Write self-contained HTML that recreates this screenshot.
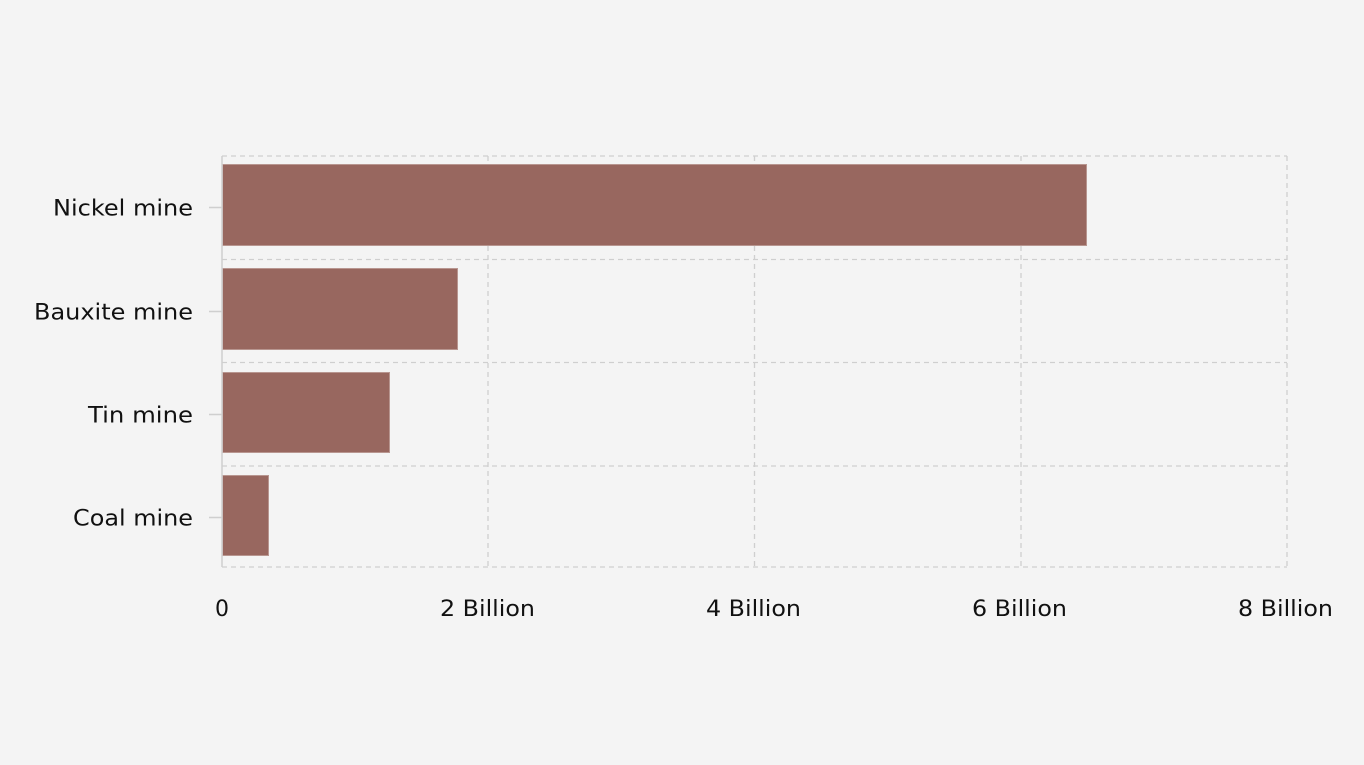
<!DOCTYPE html>
<html><head><style>
html,body{margin:0;padding:0;background:#f4f4f4;}
svg{display:block;font-family:"DejaVu Sans","Liberation Sans",sans-serif;}
</style></head><body>
<svg width="1364" height="765" viewBox="0 0 1364 765">
<rect width="1364" height="765" fill="#f4f4f4"/>
<g stroke="#cfcfcf" stroke-width="1.3" stroke-dasharray="5,4" fill="none">
<line x1="222" y1="156" x2="1287" y2="156"/>
<line x1="222" y1="259.5" x2="1287" y2="259.5"/>
<line x1="222" y1="362.5" x2="1287" y2="362.5"/>
<line x1="222" y1="466" x2="1287" y2="466"/>
<line x1="222" y1="567" x2="1287" y2="567"/>
<line x1="488" y1="156" x2="488" y2="567"/>
<line x1="754.5" y1="156" x2="754.5" y2="567"/>
<line x1="1021" y1="156" x2="1021" y2="567"/>
<line x1="1287" y1="156" x2="1287" y2="567"/>
</g>
<g fill="#98675f" stroke="#b89690" stroke-width="1">
<rect x="222.5" y="164.5" width="864" height="81"/>
<rect x="222.5" y="268.5" width="235" height="81"/>
<rect x="222.5" y="372.5" width="167" height="80"/>
<rect x="222.5" y="475.5" width="46" height="80"/>
</g>
<g stroke="#cfcfcf" stroke-width="1.5">
<line x1="222" y1="156" x2="222" y2="567"/>
<line x1="209" y1="207.5" x2="222" y2="207.5"/>
<line x1="209" y1="311.5" x2="222" y2="311.5"/>
<line x1="209" y1="414.5" x2="222" y2="414.5"/>
<line x1="209" y1="517.5" x2="222" y2="517.5"/>
</g>
<g font-size="22" fill="#111">
<text x="53" y="215.5" textLength="140" lengthAdjust="spacingAndGlyphs">Nickel mine</text>
<text x="34" y="319.5" textLength="159" lengthAdjust="spacingAndGlyphs">Bauxite mine</text>
<text x="88" y="422.5" textLength="105" lengthAdjust="spacingAndGlyphs">Tin mine</text>
<text x="73" y="525.5" textLength="120" lengthAdjust="spacingAndGlyphs">Coal mine</text>
<text x="215" y="616">0</text>
<text x="440" y="616" textLength="95" lengthAdjust="spacingAndGlyphs">2 Billion</text>
<text x="706" y="616" textLength="95" lengthAdjust="spacingAndGlyphs">4 Billion</text>
<text x="972" y="616" textLength="95" lengthAdjust="spacingAndGlyphs">6 Billion</text>
<text x="1238" y="616" textLength="95" lengthAdjust="spacingAndGlyphs">8 Billion</text>
</g>
</svg>
</body></html>
